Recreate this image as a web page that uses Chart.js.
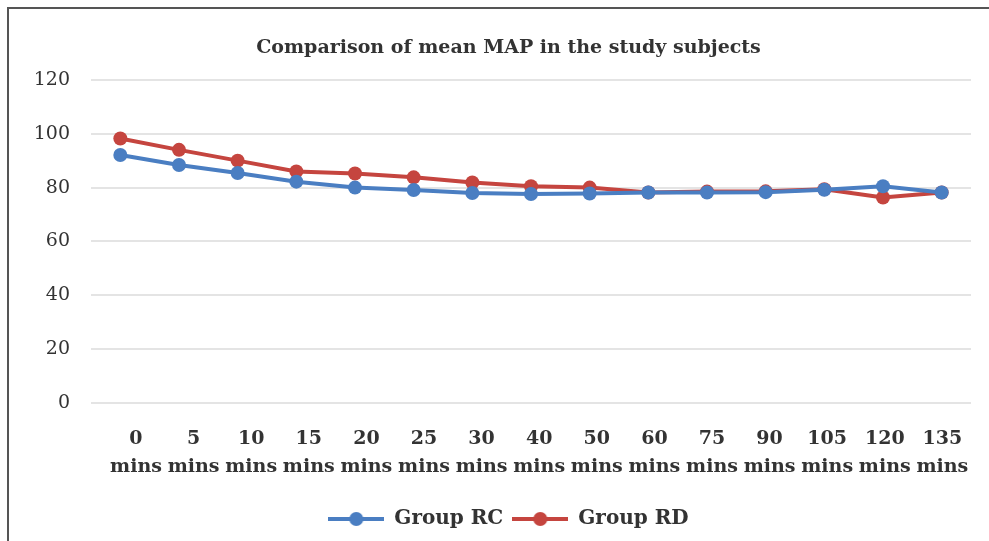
<!DOCTYPE html>
<html>
<head>
<meta charset="utf-8">
<script src="https://cdn.jsdelivr.net/npm/chart.js@4/dist/chart.umd.min.js"></script>
<style>
  html, body { margin: 0; padding: 0; background: #fff; }
  #wrap { position: relative; width: 989px; height: 541px; overflow: hidden; }
  #frame { position: absolute; left: 7px; top: 7px; width: 1000px; height: 600px;
           border-left: 2px solid #555; border-top: 2px solid #555; box-sizing: border-box; }
  canvas { position: absolute; left: 0; top: 0; }
</style>
</head>
<body>
<div id="wrap">
  <div id="frame"></div>
  <canvas id="c" width="989" height="541"></canvas>
</div>
<script>
const timeNumbers = ['0', '5', '10', '15', '20', '25', '30', '40', '50', '60', '75', '90', '105', '120', '135'];
const unitLabel = 'mins';
const groupRC = [92.1, 88.4, 85.4, 82.2, 80.0, 79.1, 78.0, 77.6, 77.8, 78.2, 78.2, 78.3, 79.2, 80.5, 78.2];
const groupRD = [98.2, 94.0, 90.0, 86.0, 85.2, 83.8, 81.9, 80.5, 80.0, 78.2, 78.5, 78.6, 79.4, 76.3, 78.2];
const yTicks = [0, 20, 40, 60, 80, 100, 120];

const blue = '#4A7EC2';
const red = '#C5453F';
const serif = "'DejaVu Serif', 'Liberation Serif', serif";

function legendIcon(color) {
  const cv = document.createElement('canvas');
  cv.width = 56; cv.height = 18;
  const g = cv.getContext('2d');
  g.strokeStyle = color; g.lineWidth = 4;
  g.beginPath(); g.moveTo(0, 9); g.lineTo(56, 9); g.stroke();
  g.fillStyle = color;
  g.beginPath(); g.arc(28, 9, 7, 0, Math.PI * 2); g.fill();
  return cv;
}
const icons = [legendIcon(blue), legendIcon(red)];

new Chart(document.getElementById('c'), {
  type: 'line',
  data: {
    labels: timeNumbers.map(n => n + ' ' + unitLabel),
    datasets: [
      { label: 'Group RC', data: groupRC, borderColor: blue, backgroundColor: blue,
        borderWidth: 4, pointRadius: 7, pointHoverRadius: 7, pointBorderWidth: 0, tension: 0 },
      { label: 'Group RD', data: groupRD, borderColor: red, backgroundColor: red,
        borderWidth: 4, pointRadius: 7, pointHoverRadius: 7, pointBorderWidth: 0, tension: 0 }
    ]
  },
  options: {
    responsive: false,
    animation: false,
    layout: { padding: { left: 28, right: 0, top: 0, bottom: 2 } },
    scales: {
      x: { type: 'category', display: false, offset: true },
      xl: {
        type: 'linear', position: 'bottom', min: -0.781, max: 14.497,
        grid: { display: false }, border: { display: false },
        afterBuildTicks: (s) => { s.ticks = timeNumbers.map((_, i) => ({ value: i })); },
        afterFit: (s) => { s.height += 5; },
        ticks: {
          autoSkip: false, maxRotation: 0, padding: 14, color: '#333',
          font: { family: serif, size: 19, weight: 'bold', lineHeight: 1.47 },
          callback: (v) => [timeNumbers[v], unitLabel]
        }
      },
      y: {
        min: 0, max: 120,
        afterFit: (s) => { s.width = 63; },
        afterBuildTicks: (s) => { s.ticks = yTicks.map(v => ({ value: v })); },
        grid: { color: '#e4e4e4', lineWidth: 2, drawTicks: false },
        border: { display: false },
        ticks: { padding: 21, color: '#333', font: { family: serif, size: 19 } }
      },
      yr: {
        type: 'linear', position: 'right', min: 0, max: 120,
        afterFit: (s) => { s.width = 18; },
        grid: { display: false, drawOnChartArea: false }, border: { display: false },
        ticks: { display: false }
      }
    },
    plugins: {
      title: {
        display: true, text: 'Comparison of mean MAP in the study subjects',
        color: '#333', font: { family: serif, size: 19, weight: 'bold' },
        padding: { top: 37, bottom: 20 }
      },
      legend: {
        position: 'bottom',
        labels: {
          usePointStyle: true, pointStyleWidth: 56, padding: 9, color: '#333',
          font: { family: serif, size: 20, weight: 'bold' },
          generateLabels: (chart) => {
            const items = Chart.defaults.plugins.legend.labels.generateLabels(chart);
            items.forEach((it, i) => { it.pointStyle = icons[i]; });
            return items;
          }
        }
      },
      tooltip: { enabled: false }
    }
  }
});
</script>
</body>
</html>
